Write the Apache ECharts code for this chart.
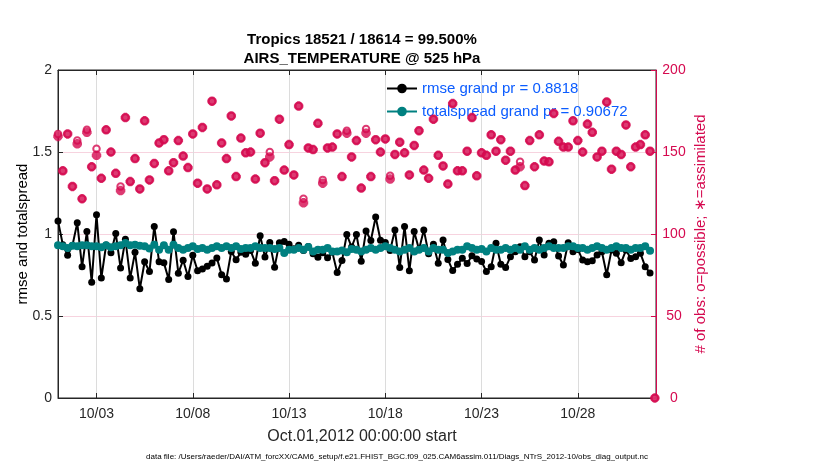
<!DOCTYPE html>
<html><head><meta charset="utf-8">
<script src="https://cdn.jsdelivr.net/npm/echarts@6/dist/echarts.min.js"></script>
<style>html,body{margin:0;padding:0;background:#fff}#c{width:830px;height:470px}</style>
</head><body><div id="c"></div>
<script>
const titleLines = ['Tropics 18521 / 18614 = 99.500%', 'AIRS_TEMPERATURE @ 525 hPa'];
const xAxisTitle = 'Oct.01,2012 00:00:00 start';
const footnote = 'data file: /Users/raeder/DAI/ATM_forcXX/CAM6_setup/f.e21.FHIST_BGC.f09_025.CAM6assim.011/Diags_NTrS_2012-10/obs_diag_output.nc';
const leftAxisName = 'rmse and totalspread';
const rightAxisName = '# of obs: o=possible; \u2217=assimilated';
const legendNames = ['rmse grand pr = 0.8818', 'totalspread grand pr = 0.90672'];
const tickDays = [2, 7, 12, 17, 22, 27];
const tickLabels = ['10/03', '10/08', '10/13', '10/18', '10/23', '10/28'];
const binDays = 0.25; // 6-hourly bins starting Oct 01 00:00

const rmse = [
  1.08,0.935,0.87,0.93,1.068,0.80,1.015,0.706,1.118,0.731,
  0.933,0.885,1.003,0.792,0.968,0.731,0.888,0.666,0.831,0.771,
  1.046,0.831,0.824,0.723,1.014,0.761,0.84,0.741,0.871,0.776,
  0.787,0.803,0.823,0.854,0.752,0.726,0.894,0.843,0.888,0.876,
  0.9,0.822,0.989,0.86,0.948,0.798,0.946,0.954,0.937,0.91,
  0.931,0.9,0.924,0.88,0.858,0.885,0.855,0.888,0.765,0.838,
  0.997,0.92,0.997,0.834,1.018,0.96,1.104,0.962,0.948,0.9,
  1.025,0.795,1.046,0.776,1.015,0.905,1.025,0.88,0.938,0.821,
  0.964,0.845,0.777,0.815,0.852,0.82,0.868,0.847,0.832,0.771,
  0.8,0.944,0.815,0.795,0.862,0.892,0.923,0.862,0.892,0.841,
  0.963,0.872,0.943,0.953,0.866,0.811,0.947,0.892,0.906,0.841,
  0.831,0.837,0.872,0.892,0.752,0.902,0.882,0.825,0.902,0.851,
  0.862,0.882,0.801,0.762,null
];
const spread = [
  0.931,0.925,0.915,0.929,0.925,0.931,0.931,0.925,0.925,0.919,
  0.931,0.919,0.925,0.931,0.945,0.931,0.935,0.929,0.925,0.911,
  0.935,0.904,0.931,0.904,0.935,0.915,0.904,0.915,0.925,0.909,
  0.915,0.904,0.915,0.925,0.915,0.925,0.915,0.925,0.909,0.915,
  0.915,0.925,0.915,0.915,0.915,0.909,0.915,0.884,0.904,0.904,
  0.915,0.904,0.921,0.894,0.904,0.904,0.915,0.894,0.894,0.9,
  0.888,0.909,0.904,0.894,0.904,0.915,0.904,0.915,0.925,0.915,
  0.904,0.894,0.904,0.915,0.894,0.904,0.915,0.894,0.915,0.904,
  0.904,0.884,0.894,0.904,0.904,0.925,0.915,0.904,0.909,0.894,
  0.915,0.904,0.904,0.915,0.904,0.915,0.904,0.925,0.904,0.915,
  0.904,0.915,0.925,0.915,0.915,0.915,0.925,0.925,0.915,0.915,
  0.904,0.915,0.925,0.915,0.904,0.915,0.925,0.915,0.915,0.904,
  0.915,0.915,0.925,0.898,null
];
const nAssim = [
  159.5,138.5,161,129,155,121.5,162,141,148,134,
  163.5,150,137,126.5,171,132,146,127.5,169,133,
  143,155.5,157.5,138.5,143.5,157,147.5,140.5,161,131,
  165,127.5,181,130,155.5,146,172,135,158.5,149.5,
  150,133.5,161.5,143.5,147,132.5,170,139,154.5,136,
  178,119,152.5,151.5,167.5,131,152.5,153,161,135,
  161.5,147,157,128,161.5,135,157.5,150,158,133.5,
  148.5,156,149.5,136,154,163,139,134,170,148,
  141.5,130.5,179.5,138.5,138.5,150.5,171,135.5,149.5,148,
  160.5,150.5,157.5,145,150.5,139,141,129.5,157,141,
  160.5,144.5,144,173.5,156.5,153,153,169,157,150,
  167,162,147,150.5,180.5,139.5,150.5,148.5,166.5,141,
  153,154.5,160.5,150.5,0
];
const nPoss = [
  161,138.5,161,129,157,121.5,163.5,141,152,134,
  163.5,150,137,129,171,132,146,127.5,169,133,
  143,155.5,157.5,138.5,143.5,157,147.5,140.5,161,131,
  165,127.5,181,130,155.5,146,172,135,158.5,149.5,
  150,133.5,161.5,143.5,150,132.5,170,139,154.5,136,
  178,121.5,152.5,151.5,167.5,133,152.5,153,161,135,
  163,147,157,128,164,135,157.5,150,158,135.5,
  148.5,156,149.5,136,154,163,139,134,170,148,
  141.5,130.5,179.5,138.5,138.5,150.5,171,135.5,149.5,148,
  160.5,150.5,157.5,145,150.5,139,144,129.5,157,141,
  160.5,144.5,144,173.5,156.5,153,153,169,157,150,
  167,162,147,150.5,180.5,139.5,150.5,148.5,166.5,141,
  153,154.5,160.5,150.5,0
];

const RED = '#d5094f';
const TEAL = '#008080';
const AXC = '#262626';
const FONT = '"Liberation Sans", Arial, Helvetica, sans-serif';
const pair = arr => arr.map((v, i) => [i * binDays, v]);
const XMAX = 31.06;

const chart = echarts.init(document.getElementById('c'), null, {renderer: 'canvas'});
chart.setOption({
  animation: false,
  textStyle: {fontFamily: FONT},
  title: [
    {text: titleLines.join('\n'), left: 357, top: 25, textAlign: 'center',
     textStyle: {fontFamily: FONT, fontWeight: 'bold', fontSize: 15, lineHeight: 19, color: '#000'}},
    {text: xAxisTitle, left: 357, top: 423, textAlign: 'center',
     textStyle: {fontFamily: FONT, fontWeight: 'normal', fontSize: 16, lineHeight: 18, color: AXC}},
    {text: footnote, left: 392, top: 447, textAlign: 'center',
     textStyle: {fontFamily: FONT, fontWeight: 'normal', fontSize: 8, lineHeight: 10, color: '#000'}}
  ],
  grid: {left: 58, top: 70, width: 598, height: 328, show: true, borderColor: AXC, borderWidth: 1, backgroundColor: 'transparent'},
  legend: {
    data: legendNames, orient: 'vertical', left: 386, top: 81, padding: 0,
    itemWidth: 30, itemHeight: 12, itemGap: 8,
    textStyle: {color: '#0b5cff', fontSize: 15, fontFamily: FONT}
  },
  xAxis: [
    {type: 'value', min: 0, max: XMAX, position: 'bottom',
     axisLine: {show: true, onZero: false, lineStyle: {color: AXC}},
     axisTick: {show: true, inside: true, length: 5, customValues: tickDays, lineStyle: {color: AXC}},
     axisLabel: {customValues: tickDays, formatter: v => tickLabels[tickDays.indexOf(v)], fontSize: 14, color: AXC, margin: 9},
     splitLine: {show: true, lineStyle: {color: '#dcdcdc', width: 1}}},
    {type: 'value', min: 0, max: XMAX, position: 'top',
     axisLine: {show: true, onZero: false, lineStyle: {color: AXC}},
     axisTick: {show: true, inside: true, length: 5, customValues: tickDays, lineStyle: {color: AXC}},
     axisLabel: {show: false}, splitLine: {show: false}}
  ],
  yAxis: [
    {type: 'value', min: 0, max: 2, interval: 0.5, position: 'left',
     name: leftAxisName, nameLocation: 'middle', nameGap: 28, nameRotate: 90, nameMoveOverlap: false,
     nameTextStyle: {fontSize: 15, color: '#000', fontFamily: FONT},
     axisLine: {show: true, onZero: false, lineStyle: {color: AXC}},
     axisTick: {show: true, inside: true, length: 5, lineStyle: {color: AXC}},
     axisLabel: {fontSize: 14, color: AXC, margin: 6},
     splitLine: {show: false}},
    {type: 'value', min: 0, max: 200, interval: 50, position: 'right',
     name: rightAxisName, nameLocation: 'middle', nameGap: 37, nameRotate: 90, nameMoveOverlap: false,
     nameTextStyle: {fontSize: 15, color: RED, fontFamily: FONT},
     axisLine: {show: true, onZero: false, lineStyle: {color: RED}},
     axisTick: {show: true, inside: true, length: 5, lineStyle: {color: RED}},
     axisLabel: {fontSize: 14, color: RED, margin: 18, align: 'center'},
     splitLine: {show: true, showMinLine: false, showMaxLine: false, lineStyle: {color: 'rgba(213,9,79,0.18)', width: 1}}}
  ],
  series: [
    {name: legendNames[0], type: 'line', xAxisIndex: 0, yAxisIndex: 0, data: pair(rmse),
     symbol: 'circle', symbolSize: 7, showAllSymbol: true, connectNulls: false, z: 3,
     lineStyle: {color: '#000', width: 2}, itemStyle: {color: '#000'}},
    {name: legendNames[1], type: 'line', xAxisIndex: 0, yAxisIndex: 0, data: pair(spread),
     symbol: 'circle', symbolSize: 8, showAllSymbol: true, connectNulls: false, z: 4,
     lineStyle: {color: TEAL, width: 2.5}, itemStyle: {color: TEAL}},
    {name: 'possible', type: 'scatter', xAxisIndex: 0, yAxisIndex: 1, data: pair(nPoss),
     symbol: 'emptyCircle', symbolSize: 6.5, z: 5, clip: false,
     itemStyle: {color: RED, borderColor: RED, borderWidth: 2}},
    {name: 'assimilated', type: 'scatter', xAxisIndex: 0, yAxisIndex: 1, data: pair(nAssim),
     symbol: 'path://M5,0L5,10M0,5L10,5M1.6,1.6L8.4,8.4M8.4,1.6L1.6,8.4', symbolSize: 9.5, z: 5, clip: false,
     itemStyle: {color: 'rgba(0,0,0,0)', borderColor: RED, borderWidth: 3.2}}
  ]
});
</script>
</body></html>
